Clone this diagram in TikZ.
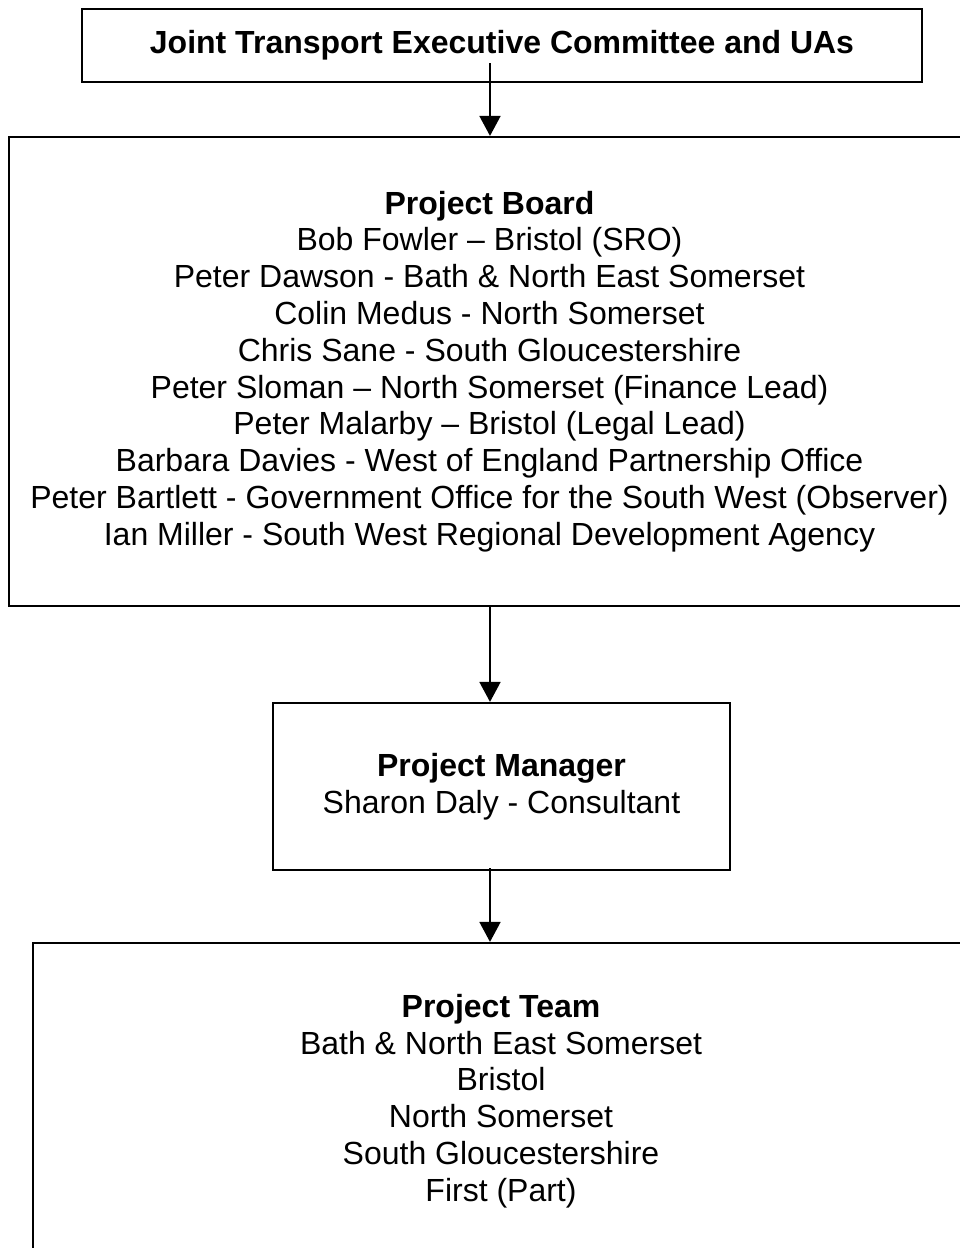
\documentclass[tikz,border=0pt]{standalone}
\usepackage{fontspec}
\setmainfont{Liberation Sans}
\usetikzlibrary{arrows.meta}
\tikzset{
  orgbox/.style={draw=black, line width=2.2pt, rectangle, inner sep=0pt, align=center,
    font=\fontsize{32}{36.8}\selectfont},
  arr/.style={draw=black, line width=1.8pt, -{Triangle[width=21pt,length=20pt]}}
}
\begin{document}
\begin{tikzpicture}[x=1pt,y=-1pt]
\useasboundingbox[fill=white] (0,0) rectangle (960,1248);
\node[orgbox, minimum width=840pt, minimum height=73pt] (top) at (502,45.5)
  {\textbf{Joint Transport Executive Committee and UAs}};
\node[orgbox, minimum width=961pt, minimum height=469pt] (board) at (489.5,371.5)
  {\textbf{Project Board}\\
   Bob Fowler – Bristol (SRO)\\
   Peter Dawson - Bath \& North East Somerset\\
   Colin Medus - North Somerset\\
   Chris Sane - South Gloucestershire\\
   Peter Sloman – North Somerset (Finance Lead)\\
   Peter Malarby – Bristol (Legal Lead)\\
   Barbara Davies - West of England Partnership Office\\
   Peter Bartlett - Government Office for the South West (Observer)\\
   Ian Miller - South West Regional Development Agency};
\node[orgbox, minimum width=457pt, minimum height=167pt] (manager) at (501.5,786.5)
  {\textbf{Project Manager}\\
   Sharon Daly - Consultant};
\node[orgbox, minimum width=936pt, minimum height=316pt] (team) at (501,1101)
  {\textbf{Project Team}\\
   Bath \& North East Somerset\\
   Bristol\\
   North Somerset\\
   South Gloucestershire\\
   First (Part)};
\coordinate (a1) at (490,63);
\coordinate (a3) at (490,868);
\draw[arr] (a1) -- (a1 |- board.north);
\draw[arr] (a1 |- board.south) -- (a1 |- manager.north);
\draw[arr] (a3) -- (a3 |- team.north);
\end{tikzpicture}
\end{document}
